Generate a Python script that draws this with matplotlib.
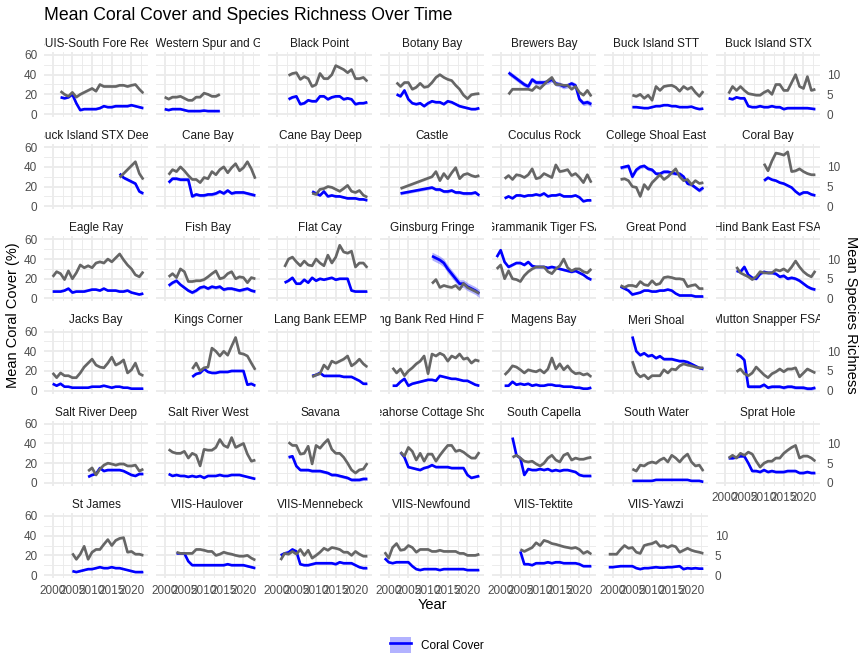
import numpy as np
import matplotlib.pyplot as plt
from matplotlib.patches import Patch
from matplotlib.lines import Line2D

plt.rcParams['font.family'] = ['Liberation Sans', 'DejaVu Sans']

# ---- data ----
sites = [
    "BUIS-South Fore Reef", "BUIS-Western Spur and Groove", "Black Point", "Botany Bay",
    "Brewers Bay", "Buck Island STT", "Buck Island STX",
    "Buck Island STX Deep", "Cane Bay", "Cane Bay Deep", "Castle",
    "Coculus Rock", "College Shoal East", "Coral Bay",
    "Eagle Ray", "Fish Bay", "Flat Cay", "Ginsburg Fringe",
    "Grammanik Tiger FSA", "Great Pond", "Hind Bank East FSA",
    "Jacks Bay", "Kings Corner", "Lang Bank EEMP", "Lang Bank Red Hind FSA",
    "Magens Bay", "Meri Shoal", "Mutton Snapper FSA",
    "Salt River Deep", "Salt River West", "Savana", "Seahorse Cottage Shoal",
    "South Capella", "South Water", "Sprat Hole",
    "St James", "VIIS-Haulover", "VIIS-Mennebeck", "VIIS-Newfound",
    "VIIS-Tektite", "VIIS-Yawzi",
]

first_year = [2002, 2000, 2003, 2002, 2002, 2005, 2001,
              2017, 2001, 2009, 2003, 2001, 2002, 2010,
              2000, 2001, 2002, 2011, 1999, 2002, 2003,
              2000, 2007, 2009, 2001, 2001, 2005, 2003,
              2009, 2001, 2003, 2003, 2003, 2005, 2001,
              2005, 2003, 2001, 1999, 2005, 1999]

last_year = [2023, 2014] + [2023] * 39

# sites with a gap in the survey years
gap_years = {"Castle": [2003] + list(range(2011, 2024))}

coral_cover = [
    [17, 16, 17, 20, 11, 4, 5, 5, 5, 5, 6, 8, 7, 7, 8, 8, 8, 8, 9, 8, 7, 6],
    [5, 4, 5, 5, 5, 4, 3, 3, 3, 3, 3.5, 3, 3, 3, 3],
    [15, 17, 18, 10, 11, 14, 13, 13, 18, 18, 15, 17, 18, 18, 15, 16, 15, 10, 11, 11, 12],
    [20, 18, 24, 15, 11, 10, 11, 8, 11, 13, 12, 12, 10, 13, 12, 10, 8, 7, 6, 5, 5, 6],
    [42, 39, 36, 33, 30, 28, 35, 32, 32, 32, 33, 35, 31, 30, 28, 29, 31, 29, 15, 11, 12, 10],
    [7, 7, 6.5, 6, 6, 7, 8, 8, 9, 9, 8, 8, 7, 7, 7, 7.5, 6, 5, 5.5],
    [16, 15, 17, 16, 16, 8, 7, 7, 8, 7, 7, 8, 7, 7, 5, 6, 6, 6, 6, 6, 6, 5.5, 5],
    [33, 29, 27, 25, 23, 15, 13],
    [24, 28, 28, 27, 27, 27, 10, 12, 11, 11, 12, 12, 13, 15, 13, 16, 13, 14, 14, 14, 13, 12, 11],
    [15, 13, 11, 15, 10, 11, 10, 10, 9, 8, 8, 8, 7, 7, 6],
    [13, 19, 17, 17, 15, 15, 16, 14, 14, 13, 13, 13, 14, 11],
    [8, 10, 8, 11, 11, 10, 11, 11, 12, 11, 13, 10, 11, 11, 12, 10, 10, 10, 11, 9, 5, 6, 6],
    [39, 40, 41, 30, 37, 40, 41, 38, 37, 33, 33, 35, 35, 34, 33, 33, 30, 23, 22, 19, 16, 19],
    [26, 29, 27, 26, 24, 23, 21, 19, 15, 12, 14, 14, 12, 11],
    [7, 7, 7, 8, 10, 6, 7, 7, 7, 8, 9, 9, 8, 10, 8, 8, 8, 7, 7, 8, 6, 5, 4, 5],
    [13, 16, 18, 14, 11, 8, 6, 8, 11, 12, 10, 12, 11, 12, 9, 10, 10, 9, 8, 9, 10, 8, 7],
    [16, 18, 21, 15, 15, 19, 16, 21, 18, 20, 19, 20, 21, 19, 20, 20, 20, 8, 7, 7, 7, 7],
    [43, 41, 39, 36, 30, 25, 20, 15, 15, 12, 10, 8, 5],
    [42, 49, 37, 32, 34, 36, 36, 34, 37, 33, 32, 32, 32, 31, 32, 31, 30, 29, 28, 27, 28, 26, 24, 21, 19],
    [12, 10, 8, 4, 5, 6, 8, 8, 7, 7, 8, 8, 9, 8, 5, 3, 3, 3, 3, 2, 2, 2],
    [28, 27, 32, 24, 21, 20, 25, 27, 26, 26, 25, 22, 23, 20, 21, 20, 18, 15, 12, 10, 9],
    [7, 5, 7, 4, 4, 3, 3, 3, 3, 3, 4, 4, 4, 5, 4, 3, 4, 4, 3, 3, 2, 2, 2, 2],
    [14, 17, 18, 22, 19, 18, 18, 19, 19, 19, 20, 20, 20, 20, 6, 7, 5],
    [15, 16, 18, 15, 15, 15, 15, 15, 14, 14, 14, 12, 10, 7, 7],
    [5, 5, 9, 12, 5, 7, 8, 9, 10, 11, 11, 10, 15, 14, 13, 12, 12, 11, 10, 10, 8, 6, 5],
    [5, 5, 9, 6, 7, 6, 7, 5, 6, 5, 5, 6, 6, 5, 5, 4, 4, 4, 3, 3, 2, 2, 3],
    [55, 40, 36, 38, 35, 36, 33, 35, 32, 32, 32, 31, 30, 30, 29, 27, 25, 23, 22],
    [37, 35, 31, 4, 4, 4, 4, 6, 3, 4, 4, 4, 3, 4, 4, 3, 3, 3, 2, 2, 3],
    [6, 8, 9, 15, 12, 13, 13, 13, 13, 12, 10, 8, 7, 9, 9],
    [9, 7, 8, 7, 7, 6, 7, 6, 7, 5, 7, 7, 7, 8, 7, 7, 8, 8, 8, 7, 6, 5, 4],
    [26, 27, 17, 13, 13, 13, 12, 12, 12, 11, 10, 8, 8, 7, 6, 5, 3, 3, 3, 4, 4],
    [31, 26, 16, 15, 14, 13, 15, 16, 18, 16, 16, 16, 16, 15, 15, 15, 15, 8, 5, 6, 7],
    [46, 28, 25, 8, 14, 13, 13, 14, 13, 14, 12, 13, 12, 13, 13, 12, 11, 8, 7, 7, 7],
    [2, 2, 2, 2, 2, 2, 3, 3, 3, 3, 3, 3, 3, 3, 3, 2, 2, 2, 1],
    [25, 25, 26, 27, 27, 20, 12, 12, 11, 13, 11, 12, 11, 11, 11, 12, 12, 12, 10, 10, 11, 10, 10],
    [4, 3, 4, 5, 6, 6, 7, 8, 7, 7, 8, 7, 7, 6, 5, 4, 3, 3, 3],
    [22, 22, 22, 14, 10, 10, 10, 10, 10, 10, 10, 10, 10, 11, 10, 10, 10, 10, 9, 8, 7],
    [20, 22, 23, 26, 24, 11, 10, 10, 11, 12, 12, 12, 12, 12, 11, 13, 12, 12, 12, 10, 8, 7, 7],
    [17, 13, 12, 13, 13, 13, 13, 9, 6, 5, 6, 6, 6, 6, 5, 6, 6, 6, 6, 6, 6, 5, 5, 5, 5],
    [24, 11, 11, 10, 12, 12, 12, 13, 12, 13, 13, 12, 12, 12, 12, 11, 9, 9, 9],
    [8, 8, 8.5, 9, 9, 9, 9, 7, 6, 7, 7, 7.5, 8, 7.5, 7.5, 8, 8, 8.5, 9, 6, 7, 6.5, 7, 6.5, 6.5],
]

richness = [
    [5.8, 5.0, 4.5, 5.5, 4.3, 5.0, 5.5, 6.0, 6.5, 5.8, 7.5, 7.0, 7.0, 7.0, 7.0, 7.3, 7.3, 7.0, 7.3, 7.5, 6.3, 5.3],
    [4.3, 3.8, 4.3, 4.3, 4.5, 4.0, 3.5, 3.5, 4.3, 4.3, 5.3, 5.0, 4.5, 4.5, 5.0],
    [9.8, 10.3, 10.5, 8.8, 9.5, 9.0, 7.0, 7.5, 10.3, 9.0, 9.0, 10.0, 12.3, 11.8, 11.3, 10.5, 11.3, 9.0, 9.0, 9.3, 8.3],
    [8.0, 7.0, 8.0, 8.0, 6.3, 6.8, 7.8, 6.8, 7.0, 8.0, 9.3, 10.0, 9.3, 8.8, 8.5, 7.3, 6.3, 4.8, 3.9, 4.9, 5.1, 5.2],
    [5.0, 6.3, 6.3, 6.3, 6.3, 6.3, 6.0, 7.0, 6.5, 7.5, 8.5, 9.3, 7.5, 7.5, 7.3, 7.3, 6.3, 7.0, 5.5, 4.8, 6.0, 4.5],
    [4.8, 4.5, 5.0, 4.0, 4.8, 3.5, 7.0, 6.0, 7.0, 7.2, 7.3, 6.8, 5.8, 7.0, 6.3, 6.8, 5.5, 4.5, 5.8],
    [5.2, 7.0, 6.0, 7.0, 6.0, 5.2, 5.0, 4.8, 4.8, 5.5, 6.0, 5.0, 7.5, 7.5, 6.0, 6.0, 8.0, 10.0, 7.0, 6.5, 9.5, 6.0, 6.3],
    [7.3, 8.3, 9.3, 10.3, 11.3, 8.3, 6.8],
    [8.0, 9.3, 8.8, 10.0, 9.0, 7.8, 6.8, 6.8, 6.0, 7.3, 7.0, 8.8, 8.0, 9.3, 10.0, 8.5, 9.8, 10.8, 9.0, 9.8, 11.3, 9.5, 7.0],
    [3.3, 3.0, 4.3, 4.5, 5.0, 4.8, 4.3, 3.8, 4.5, 5.3, 3.8, 3.5, 4.0, 2.8, 2.3],
    [4.5, 7.5, 8.8, 6.5, 8.3, 7.0, 8.5, 9.8, 7.0, 8.0, 8.3, 7.8, 7.5, 7.8],
    [7.0, 7.8, 6.8, 8.0, 7.8, 7.3, 8.0, 9.5, 7.0, 7.3, 8.3, 7.8, 7.3, 10.5, 8.8, 9.0, 9.3, 7.8, 8.3, 7.3, 6.0, 8.0, 6.0],
    [6.8, 7.0, 6.5, 5.0, 4.8, 2.5, 5.5, 4.3, 6.0, 7.0, 8.0, 6.8, 7.5, 8.5, 9.5, 7.5, 6.5, 6.8, 5.5, 6.5, 5.8, 6.0],
    [10.8, 9.0, 11.5, 13.5, 13.3, 13.0, 13.8, 8.8, 9.0, 9.5, 8.8, 8.3, 8.0, 8.0],
    [5.5, 6.8, 6.3, 4.8, 7.0, 5.0, 6.5, 8.5, 7.8, 8.3, 7.8, 9.0, 9.3, 9.0, 10.0, 9.3, 10.3, 11.3, 9.8, 8.5, 7.5, 6.0, 5.5, 6.8],
    [5.5, 6.3, 5.3, 7.5, 6.8, 4.3, 4.3, 4.5, 4.5, 4.8, 5.5, 6.3, 7.0, 5.0, 5.3, 6.3, 6.8, 5.0, 5.5, 5.3, 4.0, 5.3, 5.0],
    [8.0, 10.0, 10.5, 9.3, 8.3, 9.5, 8.5, 8.3, 10.0, 9.0, 8.3, 11.0, 9.0, 10.5, 13.5, 11.8, 11.5, 12.0, 8.0, 9.0, 9.0, 7.8],
    [3.8, 4.8, 2.8, 3.3, 3.0, 2.8, 3.3, 2.3, 3.8, 2.8, 2.3, 1.8, 1.3],
    [7.5, 8.5, 5.0, 7.0, 5.0, 4.8, 4.3, 5.8, 6.8, 7.5, 8.0, 8.0, 8.0, 6.8, 6.3, 7.5, 8.3, 10.0, 7.8, 7.0, 7.5, 7.5, 6.8, 6.5, 7.5],
    [3.3, 2.8, 3.3, 3.3, 3.0, 4.3, 3.5, 3.3, 4.5, 3.5, 3.8, 5.3, 5.5, 5.3, 5.0, 5.0, 4.8, 3.0, 3.3, 3.5, 2.5, 2.5],
    [8.0, 6.5, 6.0, 5.5, 4.8, 5.5, 6.8, 6.5, 6.5, 6.5, 7.3, 7.0, 7.5, 6.8, 8.0, 9.5, 8.0, 6.8, 6.0, 5.5, 7.0],
    [4.5, 3.3, 4.5, 3.8, 3.8, 3.3, 3.3, 4.5, 6.0, 7.0, 8.0, 6.5, 6.0, 5.8, 7.0, 8.5, 6.5, 7.0, 7.8, 4.5, 5.3, 7.0, 4.3, 3.8],
    [5.5, 7.0, 5.0, 5.8, 6.0, 10.8, 10.0, 8.8, 10.0, 9.0, 11.3, 13.5, 9.5, 9.3, 8.8, 7.0, 5.3],
    [3.5, 4.0, 4.3, 6.5, 5.5, 7.5, 7.0, 7.5, 8.0, 8.8, 6.3, 7.0, 8.0, 6.8, 6.0],
    [5.8, 4.5, 5.5, 3.8, 5.0, 5.8, 6.8, 7.5, 8.8, 4.3, 9.3, 8.8, 9.5, 9.0, 7.5, 8.8, 8.3, 9.3, 8.0, 8.3, 7.0, 7.8, 7.5],
    [4.0, 5.0, 6.3, 6.0, 5.3, 4.5, 5.3, 5.0, 4.8, 5.3, 4.5, 5.5, 8.3, 5.5, 6.8, 5.3, 6.3, 5.0, 4.3, 4.5, 4.0, 4.3, 3.5],
    [7.5, 4.5, 3.5, 4.0, 3.0, 3.8, 3.8, 3.8, 5.3, 4.5, 5.5, 5.3, 6.3, 6.8, 6.5, 6.3, 6.0, 5.8, 5.8],
    [4.8, 5.5, 4.3, 3.8, 4.5, 6.0, 5.0, 4.0, 3.3, 4.3, 4.8, 5.5, 4.8, 5.5, 5.5, 5.8, 3.5, 4.5, 5.5, 5.0, 4.5],
    [3.0, 3.8, 2.0, 3.5, 4.5, 5.0, 4.8, 4.5, 4.8, 4.8, 4.3, 4.3, 4.5, 3.0, 3.5],
    [8.5, 7.8, 7.5, 7.5, 8.0, 6.3, 7.5, 7.0, 4.3, 8.5, 8.3, 8.3, 9.0, 11.0, 9.5, 9.0, 11.5, 9.0, 9.5, 10.0, 7.3, 5.5, 5.8],
    [10.3, 9.5, 9.5, 7.3, 7.5, 9.3, 4.8, 9.5, 8.8, 10.0, 11.0, 8.5, 7.5, 7.5, 6.5, 5.0, 3.3, 2.5, 3.3, 3.5, 5.0],
    [7.8, 6.8, 9.0, 8.0, 5.8, 7.5, 5.5, 7.3, 7.3, 5.5, 7.0, 8.3, 9.5, 9.5, 8.0, 8.3, 7.8, 7.0, 6.3, 6.3, 7.8],
    [6.5, 7.0, 6.3, 5.5, 5.3, 5.5, 4.8, 4.3, 5.0, 6.3, 7.0, 5.8, 5.3, 7.0, 7.5, 5.8, 6.3, 6.0, 6.0, 6.3, 6.5],
    [3.5, 3.0, 4.5, 4.3, 5.0, 5.3, 5.0, 5.8, 6.3, 5.3, 7.0, 6.3, 5.3, 6.5, 7.3, 5.3, 4.3, 4.5, 3.0],
    [6.3, 7.0, 6.3, 7.5, 7.0, 7.8, 7.3, 5.5, 4.0, 5.0, 5.5, 5.5, 6.3, 6.3, 7.5, 8.3, 9.0, 9.5, 6.3, 6.8, 6.8, 6.3, 5.5],
    [5.5, 4.0, 5.3, 7.3, 4.0, 5.8, 6.5, 6.5, 7.8, 9.0, 7.5, 8.8, 9.3, 9.5, 5.8, 6.0, 5.3, 5.3, 5.0],
    [5.8, 5.5, 5.5, 5.5, 5.5, 6.5, 6.5, 6.3, 6.0, 6.0, 5.0, 5.3, 5.8, 5.5, 5.3, 5.0, 4.8, 4.8, 5.0, 4.3, 3.8],
    [3.8, 5.5, 5.3, 6.0, 5.3, 6.5, 5.0, 6.3, 4.3, 5.0, 5.8, 6.8, 6.3, 7.0, 6.8, 6.5, 5.8, 5.8, 5.0, 6.0, 5.3, 4.8, 4.8],
    [5.8, 4.3, 7.0, 8.0, 6.3, 6.5, 7.5, 7.0, 5.8, 6.5, 6.5, 6.5, 6.0, 6.0, 6.3, 6.0, 6.0, 6.0, 6.0, 5.5, 5.5, 5.0, 5.0, 5.0, 5.3],
    [6.5, 6.0, 6.5, 7.0, 8.2, 7.5, 8.8, 8.5, 8.0, 7.8, 7.5, 7.2, 7.0, 6.8, 7.0, 6.5, 5.5, 6.0, 5.3],
    [5.3, 5.3, 5.3, 6.5, 7.5, 6.8, 7.0, 5.8, 5.5, 7.5, 7.8, 8.0, 8.5, 7.3, 7.5, 7.0, 7.5, 7.2, 5.8, 6.3, 6.8, 6.3, 6.0, 5.8, 5.5],
]

# standard errors (one value per site)
coral_se = [1, 0.8, 1.2, 1.2, 2.5, 0.6, 1, 1.5, 1.5, 1, 1.5, 0.8, 1.8, 1.2,
            0.8, 1.5, 1, 4, 1.2, 0.8, 1.5, 0.6, 1, 1, 0.8, 0.8, 1.2, 1.5,
            1, 0.8, 1.5, 1, 1, 0.5, 1.2, 0.6, 0.8, 1, 0.6, 0.8, 0.6]
richness_se = [0.3] * 41

scale = 4  # richness is drawn at 4x on the cover axis

# ---- layout (pixel based, figure 864 x 672) ----
W, H = 864, 672
fig = plt.figure(figsize=(W / 96, H / 96), dpi=96)


def fx(px):
    return px / W


def fy(py):
    return 1 - py / H


n_col = 7
pan_w, pan_h = 104, 65
col_step, row_step = 112, 92.2
left0, top0 = 44, 52
strip_h = 18
grid_col = "#EBEBEB"
tick_col = "#4D4D4D"

for i, name in enumerate(sites):
    r, c = divmod(i, n_col)
    left = left0 + c * col_step
    top = top0 + r * row_step
    ax = fig.add_axes([fx(left), fy(top + pan_h), pan_w / W, pan_h / H])

    if name in gap_years:
        yrs = np.array(gap_years[name])
    else:
        yrs = np.arange(first_year[i], last_year[i] + 1)
    cc = np.array(coral_cover[i], dtype=float)
    rr = np.array(richness[i], dtype=float) * scale
    rse = richness_se[i] * scale

    ax.fill_between(yrs, cc - coral_se[i], cc + coral_se[i], color="blue", alpha=0.3, lw=0)
    ax.fill_between(yrs, rr - rse, rr + rse, color="grey", alpha=0.3, lw=0)
    ax.plot(yrs, cc, color="blue", lw=2, solid_capstyle="butt")
    ax.plot(yrs, rr, color="#666666", lw=2, solid_capstyle="butt")

    ax.set_xlim(1997.8, 2024.2)
    ax.set_ylim(-3, 63)
    ax.set_xticks([2000, 2005, 2010, 2015, 2020])
    ax.set_xticks([2002.5, 2007.5, 2012.5, 2017.5, 2022.5], minor=True)
    ax.set_yticks([0, 20, 40, 60])
    ax.set_yticks([10, 30, 50], minor=True)
    ax.grid(which="major", color=grid_col, lw=1.4)
    ax.grid(which="minor", color=grid_col, lw=0.7)
    ax.set_axisbelow(True)
    for s in ax.spines.values():
        s.set_visible(False)
    ax.tick_params(which="both", length=0, labelsize=8.8, labelcolor=tick_col, pad=5)
    if c != 0:
        ax.set_yticklabels([])
    if i + n_col < len(sites):
        ax.set_xticklabels([])

    # secondary axis on the last panel of each row
    if c == n_col - 1 or i == len(sites) - 1:
        sec = ax.secondary_yaxis("right", functions=(lambda y: y / scale, lambda y: y * scale))
        sec.set_yticks([0, 5, 10])
        sec.tick_params(length=0, labelsize=8.8, labelcolor=tick_col, pad=5)
        for s in sec.spines.values():
            s.set_visible(False)

    # facet strip, text clipped to panel width
    sax = fig.add_axes([fx(left), fy(top), pan_w / W, strip_h / H])
    sax.axis("off")
    sax.text(0.5, 0.45, name, ha="center", va="center", fontsize=8.8,
             color="#1A1A1A", clip_on=True)

fig.text(fx(44), fy(15), "Mean Coral Cover and Species Richness Over Time",
         fontsize=13.2, ha="left", va="center")
fig.text(fx(432), fy(605), "Year", fontsize=11, ha="center", va="center")
fig.text(fx(13), fy(315), "Mean Coral Cover (%)", fontsize=11, rotation=90,
         ha="center", va="center")
fig.text(fx(851), fy(315), "Mean Species Richness", fontsize=11, rotation=-90,
         ha="center", va="center")

key = (Patch(facecolor="blue", alpha=0.3, edgecolor="none"),
       Line2D([], [], color="blue", lw=2))
fig.legend(handles=[key], labels=["Coral Cover"], loc="center",
           bbox_to_anchor=(fx(437), fy(645)), frameon=False, fontsize=8.8,
           handlelength=1.8, handleheight=1.8, handletextpad=0.8)

fig.savefig("out.png", dpi=96)
